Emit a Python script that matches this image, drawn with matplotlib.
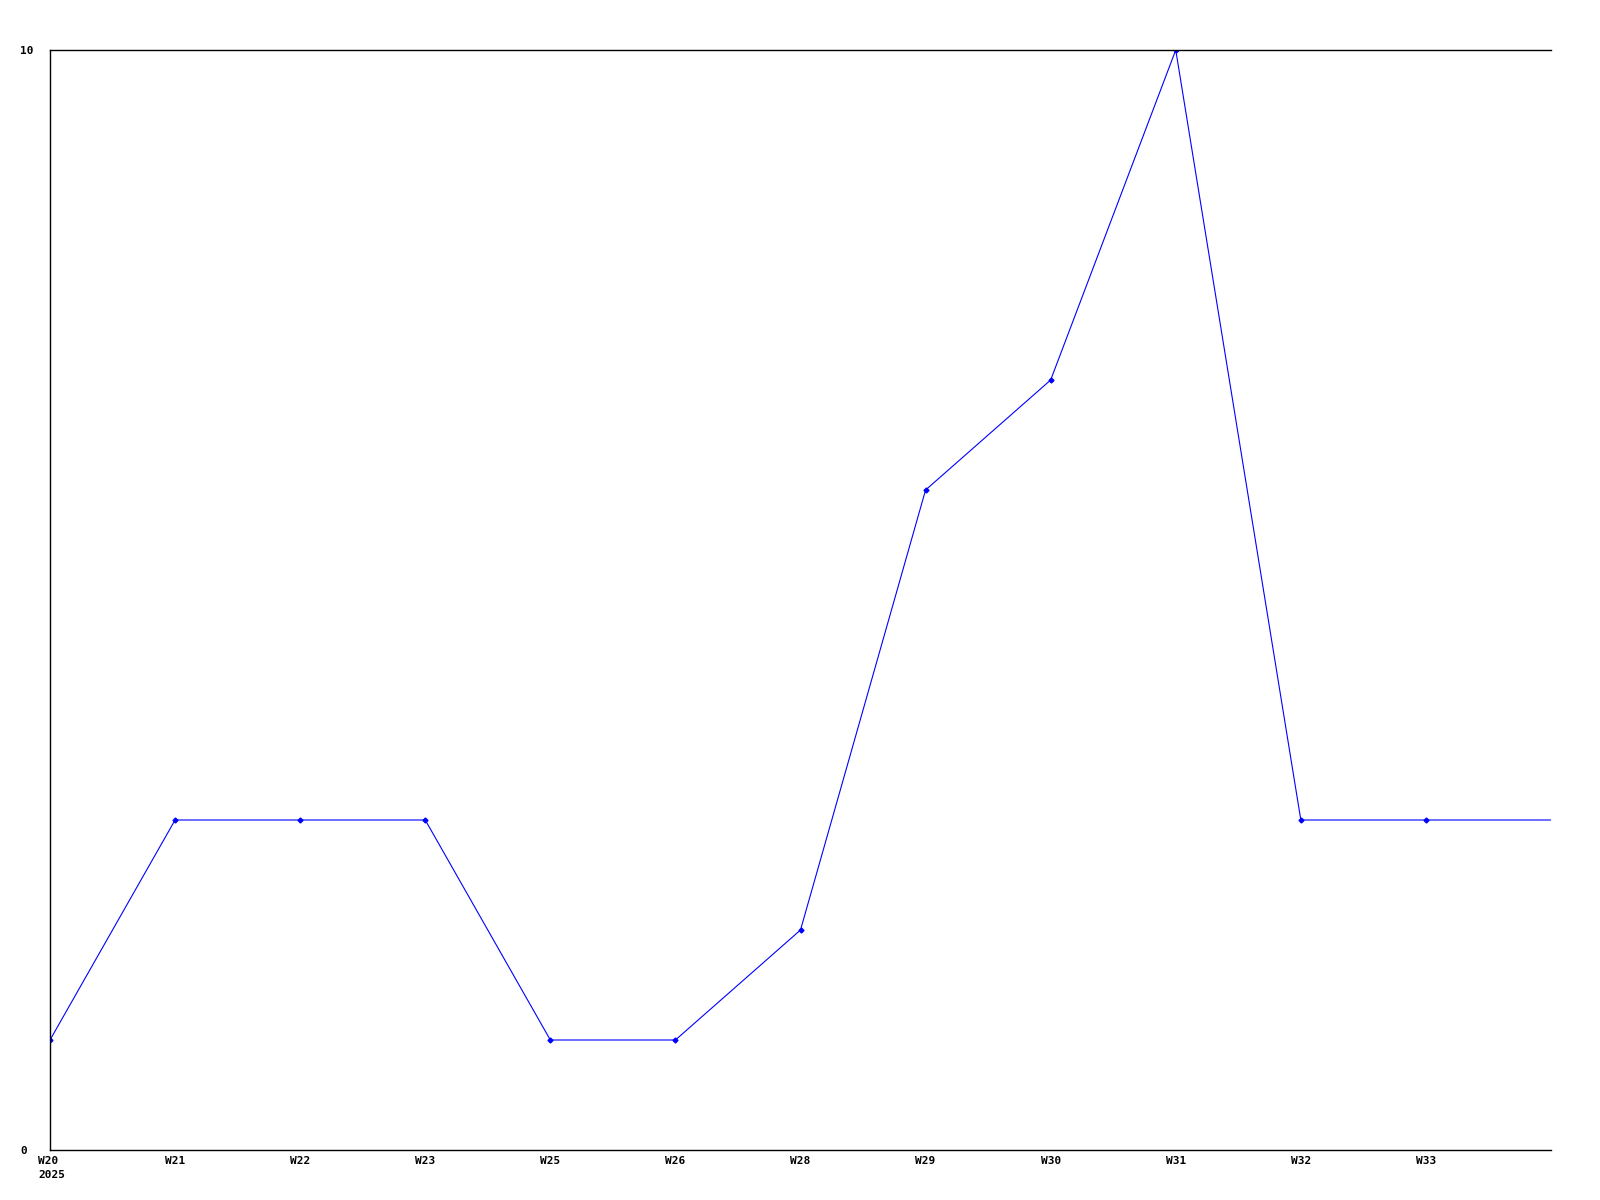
import matplotlib
matplotlib.use("Agg")
import matplotlib.pyplot as plt
from matplotlib.transforms import ScaledTranslation

weeks = ["W20\n2025", "W21", "W22", "W23", "W25", "W26", "W28", "W29", "W30", "W31", "W32", "W33"]
values = [1, 3, 3, 3, 1, 1, 2, 6, 7, 10, 3, 3]
tail_value = 3  # line continues to the right edge

fig = plt.figure(figsize=(16, 12), dpi=100)
ax = fig.add_axes([50/1600, 50/1200, (1551-50)/1600, (1150-50)/1200])

x = list(range(len(values)))
ax.plot(x + [len(values)], values + [tail_value], color="#0000ff", lw=0.8)
ax.plot(x, values, color="#0000ff", ls="none", marker="D", ms=2.5)

ax.set_xlim(0, len(values))
ax.set_ylim(0, 10)
ax.set_xticks(x)
ax.set_xticklabels(weeks, fontfamily="DejaVu Sans Mono", fontweight="bold", fontsize=8, linespacing=1.6)
ax.set_yticks([0, 10])
ax.set_yticklabels(["0", "10"], fontfamily="DejaVu Sans Mono", fontweight="bold", fontsize=8)
ax.tick_params(axis="both", length=0)
ax.tick_params(axis="x", pad=4)
ax.tick_params(axis="y", pad=21.5)
for lbl in ax.get_yticklabels():
    lbl.set_horizontalalignment("left")
first = ax.get_xticklabels()[0]
first.set_horizontalalignment("left")
first.set_multialignment("left")
first.set_transform(first.get_transform() + ScaledTranslation(-11.5/100, 0, fig.dpi_scale_trans))
ax.spines["right"].set_visible(False)
for s in ["left", "top", "bottom"]:
    ax.spines[s].set_linewidth(1.0)
    ax.spines[s].set_color("black")

fig.savefig("out.png", dpi=100)
